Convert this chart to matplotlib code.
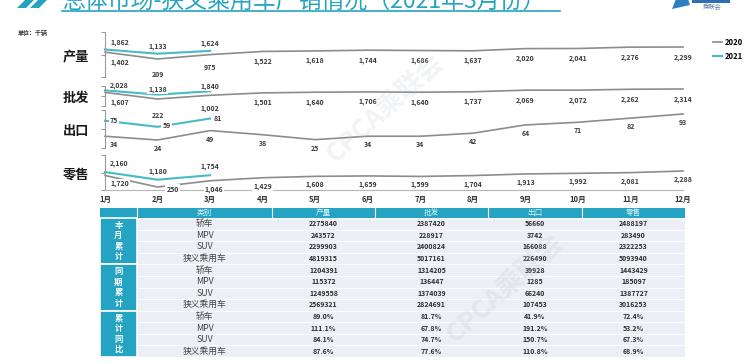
import numpy as np
import matplotlib.pyplot as plt
from matplotlib.patches import Rectangle, Polygon
from matplotlib.lines import Line2D

plt.rcParams['font.family'] = ['Noto Sans CJK SC', 'DejaVu Sans']

# ---- data (千辆) ----
months = ['1月', '2月', '3月', '4月', '5月', '6月', '7月', '8月', '9月', '10月', '11月', '12月']

prod_2020 = [1402, 209, 975, 1522, 1618, 1744, 1686, 1637, 2020, 2041, 2276, 2299]
prod_2021 = [1862, 1133, 1624]
whsl_2020 = [1607, 222, 1002, 1501, 1640, 1706, 1640, 1737, 2069, 2072, 2262, 2314]
whsl_2021 = [2028, 1138, 1840]
expt_2020 = [34, 24, 49, 38, 25, 34, 34, 42, 64, 71, 82, 93]
expt_2021 = [75, 59, 81]
retl_2020 = [1720, 250, 1046, 1429, 1608, 1659, 1599, 1704, 1913, 1992, 2081, 2288]
retl_2021 = [2160, 1180, 1754]

# ---- table data ----
tbl_cols = ['类别', '产量', '批发', '出口', '零售']
tbl_groups = ['本月累计', '同期累计', '累计同比']
tbl_cats = ['轿车', 'MPV', 'SUV', '狭义乘用车']
cum_2021 = [[2275840, 2387420, 56660, 2488197],
            [243572, 228917, 3742, 283490],
            [2299903, 2400824, 166088, 2322253],
            [4819315, 5017161, 226490, 5093940]]
cum_2020 = [[1204391, 1314205, 39928, 1443429],
            [115372, 136447, 1285, 185097],
            [1249558, 1374039, 66240, 1387727],
            [2569321, 2824691, 107453, 3016253]]
cum_yoy = [['89.0%', '81.7%', '41.9%', '72.4%'],
           ['111.1%', '67.8%', '191.2%', '53.2%'],
           ['84.1%', '74.7%', '150.7%', '67.3%'],
           ['87.6%', '77.6%', '110.8%', '68.9%']]

TEAL = '#25a3c2'
LINE21 = '#45bcc6'
LINE20 = '#8c8c8c'
W, H = 752, 363


def px(x0, y0, x1, y1):
    # pixel box (top-left origin) -> figure rect
    return [x0 / W, 1 - y1 / H, (x1 - x0) / W, (y1 - y0) / H]


fig = plt.figure(figsize=(W / 100, H / 100), dpi=100)
fig.patch.set_facecolor('white')

# title (top cut off like the slide screenshot)
fig.text(62 / W, 1 - 8.5 / H, '总体市场-狭义乘用车产销情况（2021年3月份）',
         fontsize=16.5, color=TEAL, va='baseline', ha='left')
fig.add_artist(Line2D([62 / W, 560 / W], [1 - 10.5 / H] * 2, color=TEAL, lw=1.2))
for dx in (0, 13):
    fig.add_artist(Polygon([((17 + dx) / W, 1 - 8 / H), ((26 + dx) / W, 1 - 8 / H),
                            ((36 + dx) / W, 1 + 2 / H), ((27 + dx) / W, 1 + 2 / H)],
                           closed=True, fc=TEAL, ec='none', transform=fig.transFigure))
# right logo
fig.add_artist(Rectangle((692 / W, 1 - 3 / H), 38 / W, 4 / H, fc='#2f6db5', ec='none',
                         transform=fig.transFigure))
fig.add_artist(Polygon([(672 / W, 1 - 9 / H), (690 / W, 1 - 5 / H), (688 / W, 1 + 1 / H),
                        (676 / W, 1 + 1 / H)], closed=True, fc='#2f7fc0', ec='none',
                       transform=fig.transFigure))
fig.text(712 / W, 1 - 7 / H, '乘联会', fontsize=4.5, color='#5a7fa8', ha='center', va='center')

fig.text(18 / W, 1 - 33 / H, '单位：千辆', fontsize=4.3, color='#333333', ha='left',
         va='center', fontweight='bold')

# watermarks
fig.text(385 / W, 1 - 108 / H, 'CPCA乘联会', rotation=42, fontsize=19, color='#b9c3cf',
         alpha=0.2, ha='center', va='center', fontweight='bold', zorder=0)
fig.text(505 / W, 1 - 288 / H, 'CPCA乘联会', rotation=42, fontsize=19, color='#b9c3cf',
         alpha=0.22, ha='center', va='center', fontweight='bold', zorder=5)

# name, 2020, 2021, top px, bottom px, ylim, label dy up, label dy down
panels = [
    ('产量', prod_2020, prod_2021, 32, 77, (-2926, 4912), 7, -10),
    ('批发', whsl_2020, whsl_2021, 86, 106, (-1242, 2942), 5, -10),
    ('出口', expt_2020, expt_2021, 110, 148, (2.8, 103.6), 0, -8.5),
    ('零售', retl_2020, retl_2021, 155, 190, (-132, 4326), 8.5, -8.5),
]
special = {
    ('产量', 2020, 1): (0, -15), ('产量', 2020, 2): (0, -12.5),
    ('批发', 2020, 1): (0, -16), ('批发', 2020, 2): (0, -13),
    ('出口', 2021, 1): (9, 1), ('出口', 2021, 2): (8, 0),
    ('零售', 2020, 1): (15, -2), ('零售', 2020, 2): (4, -9),
}

handles = []
for k, (name, s20, s21, top, bot, ylim, up, down) in enumerate(panels):
    ax = fig.add_axes(px(105, top, 683, bot))
    ax.set_xlim(0, 11)
    ax.set_ylim(*ylim)
    ax.patch.set_alpha(0)
    for sp in ('top', 'right', 'bottom'):
        ax.spines[sp].set_visible(False)
    ax.spines['left'].set_color('#9a9a9a')
    ax.spines['left'].set_linewidth(0.8)
    ax.set_yticks([ylim[0], (ylim[0] + ylim[1]) / 2, ylim[1]])
    ax.tick_params(axis='y', length=3, color='#9a9a9a', width=0.8, labelleft=False)

    l20, = ax.plot(range(len(s20)), s20, color=LINE20, lw=1.2, clip_on=False, label='2020')
    l21, = ax.plot(range(len(s21)), s21, color=LINE21, lw=1.5, clip_on=False, label='2021')
    if k == 0:
        handles = [l20, l21]

    for year, vals, dy in ((2020, s20, down), (2021, s21, up)):
        for i, v in enumerate(vals):
            ddx, ddy = special.get((name, year, i), (5 if i == 0 else 0, dy))
            ha = 'left' if (i == 0 and (name, year, i) not in special) else 'center'
            ax.annotate(f'{v:,}', (i, v), xytext=(ddx, ddy), textcoords='offset pixels',
                        ha=ha, va='center', fontsize=5, fontweight='bold', color='#3a3a3a',
                        annotation_clip=False,
                        bbox=dict(boxstyle='square,pad=0.15', fc='white', ec='none'))

    fig.text(76 / W, 1 - ((top + bot) / 2 + 2) / H, name, fontsize=9.5, fontweight='bold',
             color='#1a1a1a', ha='center', va='center')

    if k == len(panels) - 1:
        ax.spines['bottom'].set_visible(True)
        ax.spines['bottom'].set_color('#b5b5b5')
        ax.spines['bottom'].set_linewidth(0.8)
        ax.set_xticks(range(12))
        ax.set_xticklabels(months)
        ax.tick_params(axis='x', length=0, pad=3.5, labelsize=5.5, labelcolor='#333333')
        for t in ax.get_xticklabels():
            t.set_fontweight('bold')
    else:
        ax.set_xticks([])

fig.legend(handles=handles, loc='upper right', bbox_to_anchor=(750 / W, 1 - 31 / H),
           frameon=False, fontsize=5.5, handlelength=1.1, handletextpad=0.4,
           labelspacing=0.65, prop={'weight': 'bold', 'size': 5.5})

# ---- table ----
axt = fig.add_axes(px(100, 206, 688, 358))
axt.set_xlim(100, 688)
axt.set_ylim(358, 206)
axt.axis('off')
col_x = [100, 137, 272, 375, 488, 582, 685]
y0, hdr_h = 208, 10
rh = (357 - (y0 + hdr_h)) / 12
ry0 = y0 + hdr_h

axt.add_patch(Rectangle((col_x[0], y0), col_x[-1] - col_x[0], hdr_h, fc=TEAL, ec='none'))
axt.add_patch(Rectangle((col_x[1], ry0), col_x[-1] - col_x[1], 12 * rh, fc='#eceff5', ec='none'))
for j, c in enumerate(tbl_cols):
    cx = (col_x[j + 1] + col_x[j + 2]) / 2
    axt.text(cx, y0 + hdr_h / 2, c, ha='center', va='center', fontsize=5.5, color='#dff3f8')
for x in col_x[1:-1]:
    axt.plot([x, x], [y0, y0 + hdr_h], color='white', lw=0.8)
for r in range(13):
    axt.plot([col_x[1], col_x[-1]], [ry0 + r * rh] * 2, color='white', lw=0.6)

blocks = [cum_2021, cum_2020, cum_yoy]
for g, grp in enumerate(tbl_groups):
    gy = ry0 + 4 * g * rh
    axt.add_patch(Rectangle((col_x[0], gy), col_x[1] - col_x[0], 4 * rh, fc=TEAL,
                            ec='white', lw=1.2))
    axt.text((col_x[0] + col_x[1]) / 2, gy + 2 * rh, '\n'.join(grp), ha='center', va='center',
             fontsize=6, color='white', fontweight='bold', linespacing=1.2)
    for r, cat in enumerate(tbl_cats):
        yy = gy + (r + 0.5) * rh
        axt.text((col_x[1] + col_x[2]) / 2, yy, cat, ha='center', va='center', fontsize=6.3,
                 color='#444444')
        for j, v in enumerate(blocks[g][r]):
            axt.text((col_x[j + 2] + col_x[j + 3]) / 2, yy, str(v), ha='center', va='center',
                     fontsize=5, color='#2e2e2e', fontweight='bold')

fig.savefig('out.png', dpi=100, facecolor='white')
